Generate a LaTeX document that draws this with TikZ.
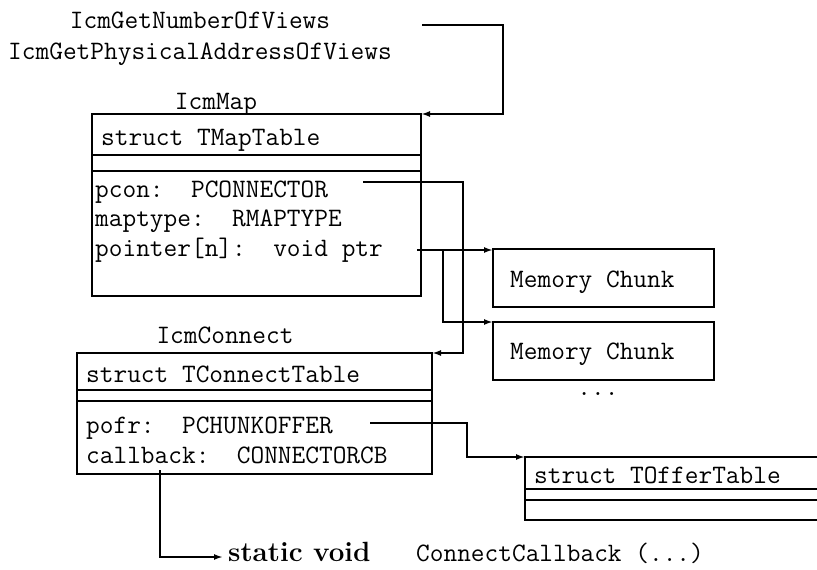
\documentclass[tikz,border=0pt]{standalone}
\usetikzlibrary{arrows.meta,calc}
\begin{document}
\begin{tikzpicture}[x=1pt,y=-1pt,
  boxnode/.style={draw, line width=2.7pt, inner sep=0pt, outer sep=0pt},
  txt/.style={font=\fontsize{26.6}{30}\selectfont\ttfamily, inner sep=0pt, anchor=base west},
  ctxt/.style={font=\fontsize{26.6}{30}\selectfont\ttfamily, inner sep=0pt, anchor=base},
  btxt/.style={font=\fontsize{27.8}{32}\selectfont\bfseries, inner sep=0pt, anchor=base west},
  conn/.style={line width=2pt},
  thickconn/.style={line width=2.6pt},
  arr/.style={-{Latex[length=9pt,width=6pt]}},
  sep/.style={line width=2.7pt}]
\clip (0,0) rectangle (817,570);
\useasboundingbox (0,0) rectangle (817,570);

% titles
\node[ctxt] (t1) at (200,28) {IcmGetNumberOfViews};
\node[ctxt] (t2) at (200,59) {IcmGetPhysicalAddressOfViews};

% IcmMap box
\node[ctxt] (maplabel) at (216,109) {IcmMap};
\node[boxnode, minimum width=329pt, minimum height=182pt] (map) at (256.5,205) {};
\draw[sep] (map.west |- 0,155) -- (map.east |- 0,155);
\draw[sep] (map.west |- 0,171) -- (map.east |- 0,171);
\node[txt] (mapname) at (101,145) {struct TMapTable};
\node[txt] (pcon) at (95,197) {pcon:\ \ PCONNECTOR};
\node[txt] (maptype) at (95,226) {maptype:\ \ RMAPTYPE};
\node[txt] (pointer) at (95,256) {pointer[n]:\ \ void ptr};

% memory chunks
\node[boxnode, minimum width=221pt, minimum height=58pt] (mem1) at (603.5,278) {};
\node[txt] (mem1t) at (510,287) {Memory Chunk};
\node[boxnode, minimum width=221pt, minimum height=58pt] (mem2) at (603.5,351) {};
\node[txt] (mem2t) at (510,359) {Memory Chunk};
\node[ctxt] (dots) at (598,395) {...};

% IcmConnect box
\node[ctxt] (conlabel) at (225,343) {IcmConnect};
\node[boxnode, minimum width=355pt, minimum height=121pt] (con) at (254.5,413.5) {};
\draw[sep] (con.west |- 0,390) -- (con.east |- 0,390);
\draw[sep] (con.west |- 0,401) -- (con.east |- 0,401);
\node[txt] (conname) at (86,382) {struct TConnectTable};
\node[txt] (pofr) at (86,433) {pofr:\ \ PCHUNKOFFER};
\node[txt] (callback) at (86,463) {callback:\ \ CONNECTORCB};

% TOfferTable box (runs past the right edge)
\node[boxnode, minimum width=305pt, minimum height=63pt] (offer) at (677.5,488.5) {};
\draw[sep] (offer.west |- 0,489) -- (offer.east |- 0,489);
\draw[sep] (offer.west |- 0,500) -- (offer.east |- 0,500);
\node[txt] (offername) at (534,483) {struct TOfferTable};

% bottom text
\node[btxt] (static) at (228,561) {static void};
\node[txt] (cbname) at (416,561) {ConnectCallback (...)};

% connector coordinates
\coordinate (topstart) at (422,25);
\coordinate (topturn) at (503,114);
\coordinate (pconout) at (363,182);
\coordinate (pconturn) at (463,353);
\coordinate (ptrout) at (417,250);
\coordinate (ptrbranch) at (443,250);
\coordinate (pofrout) at (370,423);
\coordinate (pofrturn) at (467,457);
\coordinate (cbout) at (160,470);
\coordinate (cbend) at (223,557);

% connectors
\draw[thickconn,arr] (topstart) -| (topturn) -- (map.north east);
\draw[conn,arr] (pconout) -| (pconturn) -- (con.north east);
\draw[thickconn,arr] (ptrout) -- (ptrout -| mem1.west);
\draw[thickconn,arr] (ptrbranch) |- (mem2.north west);
\draw[conn,arr] (pofrout) -| (pofrturn) -- (offer.north west);
\draw[conn,arr] (cbout) |- (cbend);
\end{tikzpicture}
\end{document}
